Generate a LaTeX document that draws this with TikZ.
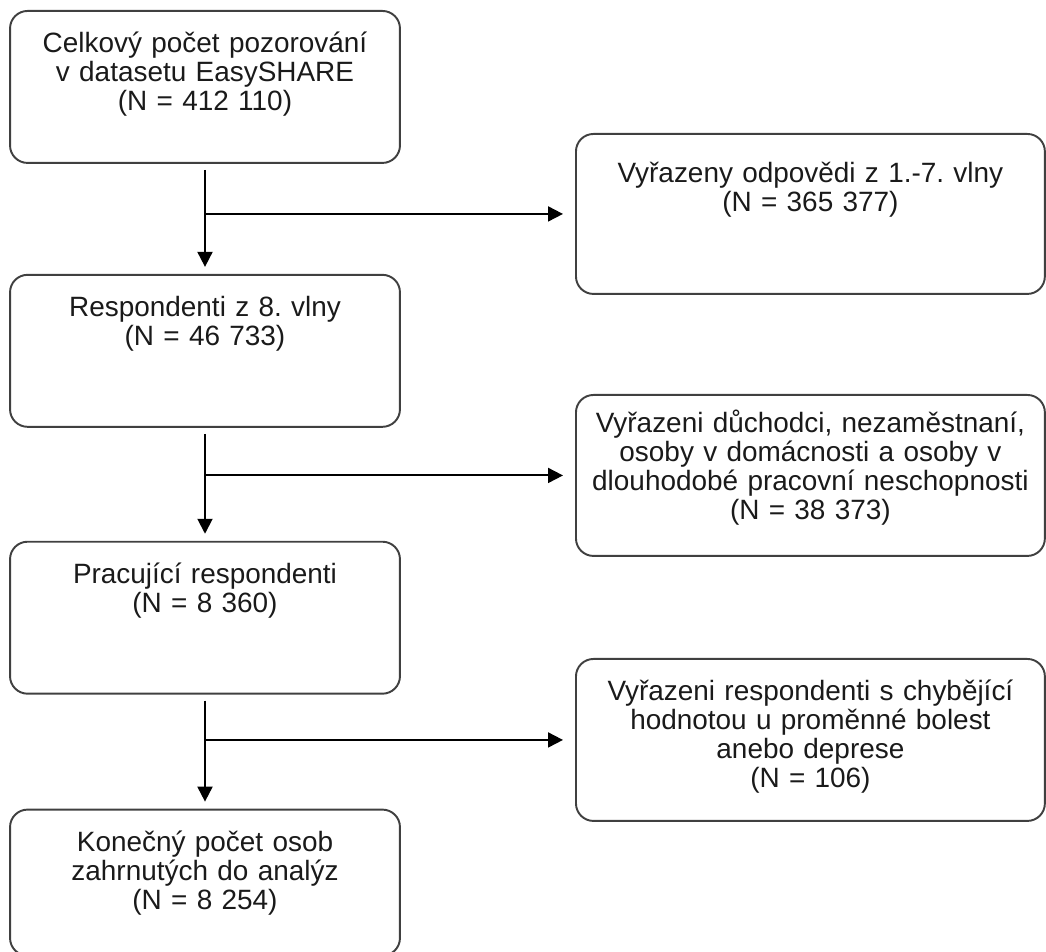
\documentclass[tikz,border=0pt]{standalone}
\usepackage{fontspec}
\setmainfont{Liberation Sans}
\usepackage{xcolor}
\usepackage{tikz}
\usetikzlibrary{
  arrows.meta,
  positioning
}
\definecolor{boxline}{HTML}{404040}
\definecolor{boxtext}{HTML}{1A1A1A}
\frenchspacing

\begin{document}
\begin{tikzpicture}[x=0.02cm, y=-0.02cm,
    every node/.style={rectangle, align=center, inner sep=0pt, text=boxtext, font=\fontsize{15.9}{16.4}\selectfont},
    stage/.style={draw=boxline, line width=1.1pt, rounded corners=0.35cm, text width=7.8cm, text height=0.84cm, text depth=2.2cm},
    excluded/.style={draw=boxline, line width=1.1pt, rounded corners=0.35cm, text width=9.38cm},
    flow/.style={-{Triangle[length=0.3cm, width=0.3cm]}, line width=1.1pt, black}]
\useasboundingbox (0,0) rectangle (1046,952);

\node [stage, anchor=north] (total) at (205,10) {Celkový počet pozorování\\ v datasetu EasySHARE\\ (N = 412 110)};
\node [stage, below=2.2cm of total] (wave8) {Respondenti z 8. vlny\\ (N = 46 733)};
\node [stage, below=2.26cm of wave8] (working) {Pracující respondenti\\ (N = 8 360)};
\node [stage, below=2.28cm of working, text depth=2.08cm] (final) {Konečný počet osob\\ zahrnutých do analýz\\ (N = 8 254)};

\node [excluded, anchor=north west, text height=0.98cm, text depth=2.22cm] (excl1) at (575,133) {Vyřazeny odpovědi z 1.-7. vlny\\ (N = 365 377)};
\node [excluded, anchor=north west, text height=0.76cm, text depth=2.46cm] (excl2) at (575,394) {Vyřazeni důchodci, nezaměstnaní,\\ osoby v domácnosti a osoby v\\ dlouhodobé pracovní neschopnosti\\ (N = 38 373)};
\node [excluded, anchor=north west, text height=0.84cm, text depth=2.4cm] (excl3) at (575,658) {Vyřazeni respondenti s chybějící\\ hodnotou u proměnné bolest\\ anebo deprese\\ (N = 106)};

\foreach \from/\to/\out in {total/wave8/excl1, wave8/working/excl2, working/final/excl3}
{
  \draw [flow, shorten <=0.12cm, shorten >=0.14cm] (\from) -- (\to);
  \draw [flow, shorten >=0.24cm] (\from.south |- \out.west) -- (\out);
}
\end{tikzpicture}
\end{document}
